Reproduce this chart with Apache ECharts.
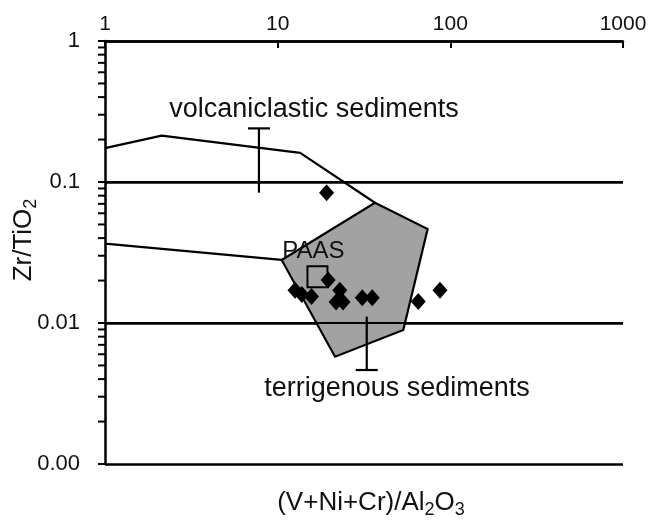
<!DOCTYPE html>
<html>
<head>
<meta charset="utf-8">
<script src="https://cdn.jsdelivr.net/npm/echarts@6/dist/echarts.min.js"></script>
<style>
html, body { margin: 0; padding: 0; background: #fff; }
#chart { width: 663px; height: 523px; }
</style>
</head>
<body>
<div id="chart"></div>
<script>
// Axis decades and their labels
const xTickValues = [1, 10, 100, 1000];
const yTickValues = [0.001, 0.01, 0.1, 1];
const yTickLabels = ['0.00', '0.01', '0.1', '1'];
const minorMultipliers = [2, 3, 4, 5, 6, 7, 8, 9];

// Terrigenous sediment field (closed polygon)
const terrigenousField = [[10.55, 0.0280], [36.6, 0.0713], [73.9, 0.0464], [53.4, 0.00892], [21.5, 0.00577]];
// Volcaniclastic sediment field boundaries (open to the left)
const volcanicUpper = [[1, 0.174], [2.13, 0.213], [13.5, 0.161], [36.6, 0.0713]];
const volcanicLower = [[1, 0.0366], [10.55, 0.0280]];
// Range bars: [x, low, high]
const volcanicBar = [7.79, 0.084, 0.240];
const terrigenousBar = [32.8, 0.00464, 0.0111];
// Post-Archean Australian Shale
const paasPoint = [17.0, 0.0213];
// Samples
const sampleX = [19.2, 19.6, 12.6, 13.8, 15.7, 22.9, 21.8, 23.9, 30.9, 35.3, 65.2, 87.1];
const sampleY = [0.084, 0.0202, 0.0171, 0.0159, 0.0154, 0.0171, 0.0141, 0.0141, 0.0151, 0.0151, 0.0142, 0.0171];

const FONT = '"Liberation Sans", Arial, Helvetica, sans-serif';
const INK = '#111';

const minorTicks = [];
for (let i = 0; i < yTickValues.length - 1; i++) {
  minorMultipliers.forEach(m => minorTicks.push([xTickValues[0], yTickValues[i] * m]));
}
const refLines = yTickValues.slice(1, -1);

function yLabel(v) {
  for (let i = 0; i < yTickValues.length; i++) {
    if (Math.abs(Math.log10(v) - Math.log10(yTickValues[i])) < 1e-6) return yTickLabels[i];
  }
  return '';
}

const chart = echarts.init(document.getElementById('chart'), null, { renderer: 'canvas' });

const series = [];

// Terrigenous field polygon
series.push({
  type: 'custom',
  z: 2,
  clip: false,
  data: [terrigenousField[0]],
  renderItem: function (params, api) {
    const pts = terrigenousField.map(p => api.coord(p));
    return {
      type: 'polygon',
      shape: { points: pts },
      style: { fill: '#a2a2a2', stroke: '#000', lineWidth: 2.2 }
    };
  }
});

// Reference lines across the plot
refLines.forEach(v => {
  series.push({
    type: 'line', z: 3, symbol: 'none', silent: true,
    lineStyle: { color: '#000', width: 2.2, opacity: 1 },
    data: [[xTickValues[0], v], [xTickValues[xTickValues.length - 1], v]]
  });
});

// Volcaniclastic field boundaries
[volcanicUpper, volcanicLower].forEach(d => {
  series.push({
    type: 'line', z: 3, symbol: 'none', silent: true,
    lineStyle: { color: '#000', width: 2.2, opacity: 1 },
    data: d
  });
});

// Range bars (cap on top for volcaniclastic, on bottom for terrigenous)
const capOnTop = [true, false];
series.push({
  type: 'custom',
  z: 4,
  clip: false,
  data: [volcanicBar, terrigenousBar],
  encode: { x: 0, y: [1, 2] },
  renderItem: function (params, api) {
    const lo = api.coord([api.value(0), api.value(1)]);
    const hi = api.coord([api.value(0), api.value(2)]);
    const capY = capOnTop[params.dataIndex] ? hi[1] : lo[1];
    const half = 11;
    return {
      type: 'group',
      children: [
        { type: 'line', shape: { x1: lo[0], y1: lo[1], x2: hi[0], y2: hi[1] }, style: { stroke: '#000', lineWidth: 2.2 } },
        { type: 'line', shape: { x1: lo[0] - half, y1: capY, x2: lo[0] + half, y2: capY }, style: { stroke: '#000', lineWidth: 2.2 } }
      ]
    };
  }
});

// Minor ticks on the Zr/TiO2 axis
series.push({
  type: 'custom',
  z: 5,
  clip: false,
  data: minorTicks,
  renderItem: function (params, api) {
    const p = api.coord([api.value(0), api.value(1)]);
    return {
      type: 'line',
      shape: { x1: p[0] - 7, y1: p[1], x2: p[0], y2: p[1] },
      style: { stroke: '#000', lineWidth: 2 }
    };
  }
});

// PAAS reference square
series.push({
  type: 'scatter', z: 6,
  symbol: 'rect', symbolSize: [20, 21],
  itemStyle: { color: 'rgba(0,0,0,0)', borderColor: '#000', borderWidth: 2, opacity: 1 },
  label: {
    show: true, position: 'top', distance: 2, offset: [-4, 0],
    formatter: 'PAAS', color: INK, opacity: 1, fontSize: 24, fontFamily: FONT
  },
  data: [paasPoint]
});

// Samples
series.push({
  type: 'scatter', z: 7,
  symbol: 'diamond', symbolSize: [15, 17],
  itemStyle: { color: '#000', opacity: 1 },
  data: sampleX.map((x, i) => [x, sampleY[i]])
});

chart.setOption({
  animation: false,
  backgroundColor: '#fff',
  grid: { left: 105, right: 40, top: 41, bottom: 59, containLabel: false, outerBoundsMode: 'none' },
  xAxis: {
    type: 'log', logBase: 10, position: 'top',
    min: xTickValues[0], max: xTickValues[xTickValues.length - 1],
    axisLine: { show: true, onZero: false, lineStyle: { color: '#000', width: 2.5 } },
    axisTick: { show: true, inside: true, length: 7, lineStyle: { color: '#000', width: 2 } },
    axisLabel: {
      show: true, margin: 6, color: INK, fontSize: 21, fontFamily: FONT,
      formatter: v => String(Math.round(v))
    },
    splitLine: { show: false },
    minorTick: { show: false }
  },
  yAxis: {
    type: 'log', logBase: 10,
    min: yTickValues[0], max: yTickValues[yTickValues.length - 1],
    axisLine: { show: true, onZero: false, lineStyle: { color: '#000', width: 2.5 } },
    axisTick: { show: true, inside: false, length: 7, lineStyle: { color: '#000', width: 2 } },
    axisLabel: { show: true, margin: 25, color: INK, fontSize: 22, fontFamily: FONT, formatter: yLabel },
    splitLine: { show: true, lineStyle: { color: '#000', width: 2.5 } },
    minorTick: { show: false }
  },
  graphic: [
    {
      type: 'text', x: 314, y: 110, z: 10,
      style: { text: 'volcaniclastic sediments', fill: INK, font: '27px ' + FONT, align: 'center', verticalAlign: 'middle' }
    },
    {
      type: 'text', x: 397, y: 389, z: 10,
      style: { text: 'terrigenous sediments', fill: INK, font: '27px ' + FONT, align: 'center', verticalAlign: 'middle' }
    },
    {
      type: 'text', x: 371, y: 503, z: 10,
      style: {
        text: '{a|(V+Ni+Cr)/Al}{s|2}{a|O}{s|3}',
        align: 'center', verticalAlign: 'middle',
        rich: {
          a: { fontSize: 26, fontFamily: FONT, fill: INK, color: INK },
          s: { fontSize: 18, fontFamily: FONT, fill: INK, color: INK, padding: [14, 0, 0, 0] }
        }
      }
    },
    {
      type: 'text', x: 24, y: 240, z: 10, rotation: Math.PI / 2,
      style: {
        text: '{a|Zr/TiO}{s|2}',
        align: 'center', verticalAlign: 'middle',
        rich: {
          a: { fontSize: 26, fontFamily: FONT, fill: INK, color: INK },
          s: { fontSize: 18, fontFamily: FONT, fill: INK, color: INK, padding: [14, 0, 0, 0] }
        }
      }
    }
  ],
  series: series
});
</script>
</body>
</html>
